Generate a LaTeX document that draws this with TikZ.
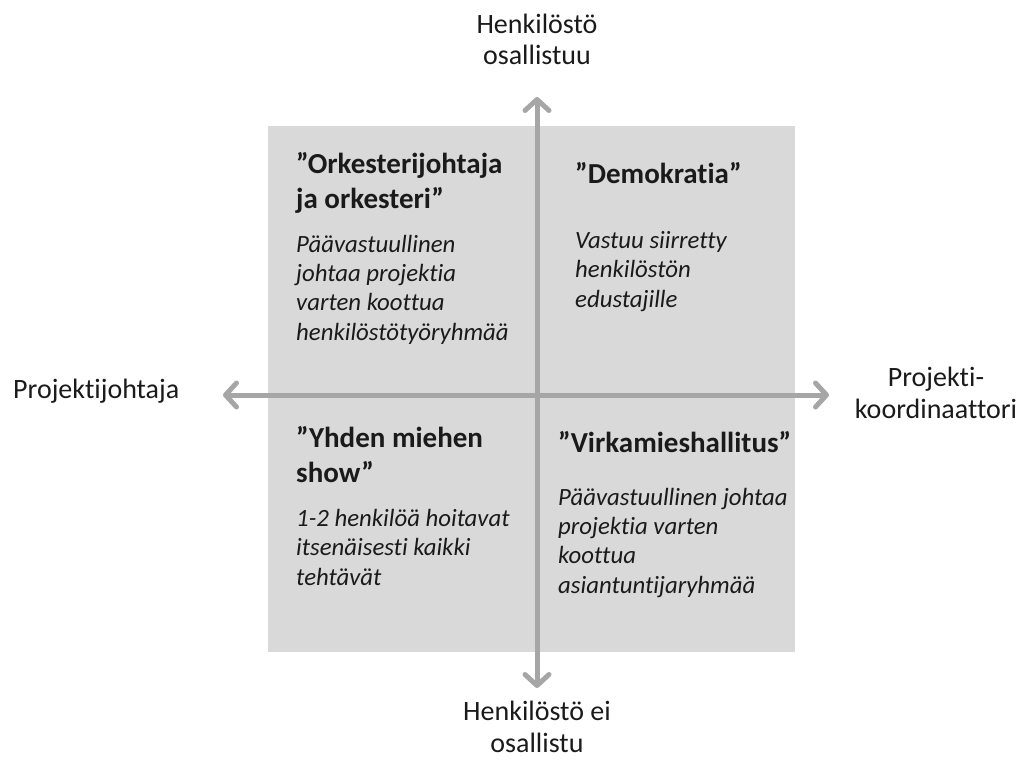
\documentclass[tikz,border=0pt]{standalone}
\usepackage{fontspec}
\setmainfont{Carlito}[Ligatures=NoCommon]
\usetikzlibrary{arrows.meta}
\definecolor{boxgray}{HTML}{D9D9D9}
\definecolor{axisgray}{HTML}{A6A6A6}
\definecolor{txt}{HTML}{1A1A1A}
\tikzset{
  axis/.style={draw=axisgray, line width=5pt, line join=round,
    {Straight Barb[length=11pt,width=24pt,line join=round,line cap=round]}-{Straight Barb[length=11pt,width=24pt,line join=round,line cap=round]}},
  head/.style={anchor=base west, inner sep=0pt, align=left, text=txt,
    font=\fontsize{29}{34.5}\selectfont\bfseries},
  body/.style={anchor=base west, inner sep=0pt, align=left, text=txt,
    font=\fontsize{24.8}{29.3}\selectfont\itshape},
  axlabel/.style={inner sep=0pt, align=center, text=txt,
    font=\fontsize{28}{31.5}\selectfont},
}
\begin{document}
\begin{tikzpicture}[x=1pt,y=-1pt]
\useasboundingbox (0,0) rectangle (1029,760);
\fill[boxgray] (268,126) rectangle (795,652);
% axes
\coordinate (T) at (537,97);
\coordinate (B) at (537,688);
\coordinate (L) at (223,395);
\coordinate (R) at (829,395);
\draw[axis] (B) -- (T);
\draw[axis] (L) -- (R);
% axis labels (anchors at baseline of last line)
\node[axlabel, anchor=base] (top) at (537,65) {Henkilöstö\\osallistuu};
\node[axlabel, anchor=base] (bot) at (537,752) {Henkilöstö ei\\osallistu};
\node[axlabel, anchor=base west] (left) at (13,398) {Projektijohtaja};
\node[axlabel, anchor=base] (right) at (936,418) {Projekti-\\koordinaattori};
% quadrant texts
\node[head] (tlh) at (296,208) {”Orkesterijohtaja\\ja orkesteri”};
\node[body] (tlb) at (296,340) {Päävastuullinen\\johtaa projektia\\varten koottua\\henkilöstötyöryhmää};
\node[head] (trh) at (575,183) {”Demokratia”};
\node[body] (trb) at (575,307) {Vastuu siirretty\\henkilöstön\\edustajille};
\node[head] (blh) at (296,482) {”Yhden miehen\\show”};
\node[body] (blb) at (296,585) {1-2 henkilöä hoitavat\\itsenäisesti kaikki\\tehtävät};
\node[head] (brh) at (558,452) {”Virkamieshallitus”};
\node[body] (brb) at (558,593) {Päävastuullinen johtaa\\projektia varten\\koottua\\asiantuntijaryhmää};
\end{tikzpicture}
\end{document}
